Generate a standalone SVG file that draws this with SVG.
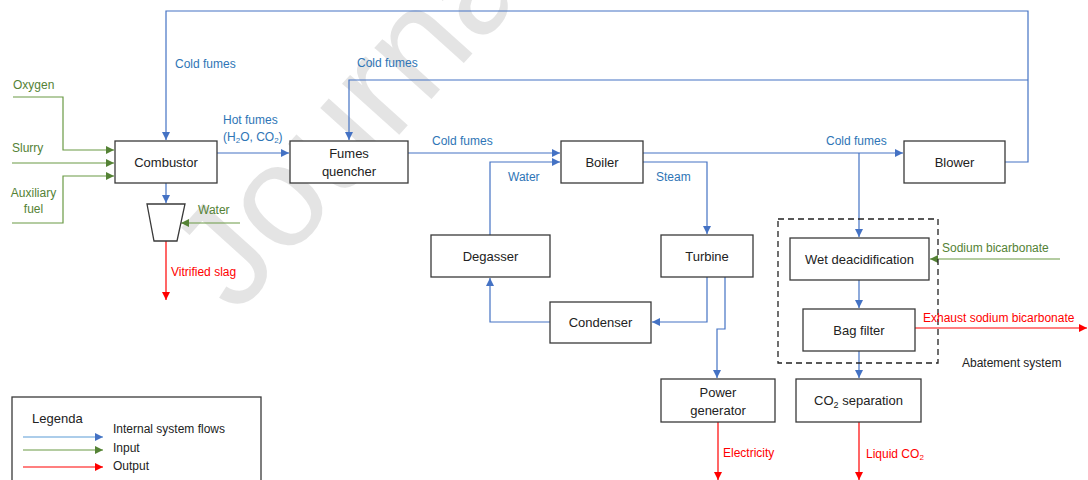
<svg xmlns="http://www.w3.org/2000/svg" width="1088" height="480" viewBox="0 0 1088 480">
<style>
.box{fill:#fff;stroke:#3a3a3a;stroke-width:1.3}
.bt{font-family:"Liberation Sans",Arial,sans-serif;font-size:13px;fill:#222;text-anchor:middle}
.lt{font-family:"Liberation Sans",Arial,sans-serif;font-size:13px;fill:#222;text-anchor:start}
.lb{font-family:"Liberation Sans",Arial,sans-serif;font-size:12px}
.blue{fill:#2E75B6}
.green{fill:#548235}
.red{fill:#FF0000}
.cb{fill:none;stroke:#4472C4;stroke-width:1.2}
.cg{fill:none;stroke:#6A9A45;stroke-width:1.2}
.cr{fill:none;stroke:#FF0000;stroke-width:1.2}
.wm{font-family:"Liberation Sans",Arial,sans-serif;font-size:145px;fill:#d9d9d9;fill-opacity:0.7}
</style>
<defs>
<marker id="ab" viewBox="0 0 10 10" refX="10" refY="5" markerWidth="8" markerHeight="8" markerUnits="userSpaceOnUse" orient="auto"><path d="M0,0L10,5L0,10z" fill="#4472C4"/></marker>
<marker id="ag" viewBox="0 0 10 10" refX="10" refY="5" markerWidth="8" markerHeight="8" markerUnits="userSpaceOnUse" orient="auto"><path d="M0,0L10,5L0,10z" fill="#548235"/></marker>
<marker id="ar" viewBox="0 0 10 10" refX="10" refY="5" markerWidth="8" markerHeight="8" markerUnits="userSpaceOnUse" orient="auto"><path d="M0,0L10,5L0,10z" fill="#FF0000"/></marker>
</defs>
<rect width="1088" height="480" fill="#fff"/>
<text class="wm" transform="translate(236,316) rotate(-48)">Journal</text>

<g id="connectors">
<polyline class="cb" points="1005,162 1028,162 1028,11 166,11 166,140" marker-end="url(#ab)"/>
<polyline class="cb" points="1028,80 349,80 349,140" marker-end="url(#ab)"/>
<line class="cb" x1="217" y1="153" x2="289" y2="153" marker-end="url(#ab)"/>
<line class="cb" x1="408" y1="153" x2="560" y2="153" marker-end="url(#ab)"/>
<line class="cb" x1="643" y1="153" x2="903" y2="153" marker-end="url(#ab)"/>
<line class="cb" x1="859" y1="153" x2="859" y2="237" marker-end="url(#ab)"/>
<polyline class="cb" points="643,162 707,162 707,234" marker-end="url(#ab)"/>
<polyline class="cb" points="490,235 490,162 560,162" marker-end="url(#ab)"/>
<polyline class="cb" points="707,277 707,322 652,322" marker-end="url(#ab)"/>
<polyline class="cb" points="550,322 490,322 490,278" marker-end="url(#ab)"/>
<polyline class="cb" points="725,277 725,329 717,329 717,378" marker-end="url(#ab)"/>
<line class="cb" x1="859" y1="280" x2="859" y2="308" marker-end="url(#ab)"/>
<line class="cb" x1="859" y1="351" x2="859" y2="378" marker-end="url(#ab)"/>
<line class="cb" x1="166" y1="183" x2="166" y2="203" marker-end="url(#ab)"/>
<polyline class="cg" points="13,97 63,97 63,150 114,150" marker-end="url(#ag)"/>
<line class="cg" x1="12" y1="163" x2="114" y2="163" marker-end="url(#ag)"/>
<polyline class="cg" points="12,223 63,223 63,176 114,176" marker-end="url(#ag)"/>
<line class="cg" x1="240" y1="223" x2="181" y2="223" marker-end="url(#ag)"/>
<line class="cg" x1="1060" y1="259" x2="930" y2="259" marker-end="url(#ag)"/>
<line class="cr" x1="166" y1="241" x2="166" y2="300" marker-end="url(#ar)"/>
<line class="cr" x1="915" y1="328" x2="1087" y2="328" marker-end="url(#ar)"/>
<line class="cr" x1="718" y1="422" x2="718" y2="480" marker-end="url(#ar)"/>
<line class="cr" x1="859" y1="422" x2="859" y2="480" marker-end="url(#ar)"/>
</g>

<g id="abatement">
<rect x="778" y="219" width="160" height="144" fill="none" stroke="#222" stroke-width="1.3" stroke-dasharray="6,4"/>
<text class="lb" x="962" y="367" fill="#222">Abatement system</text>
</g>

<g id="combustor"><rect class="box" x="115" y="141" width="102" height="42"/><text class="bt" x="166" y="166.5">Combustor</text></g>
<g id="slag-tank"><polygon class="box" points="147,204 185,204 177,241 154,241"/></g>
<g id="fumes-quencher"><rect class="box" x="290" y="141" width="118" height="42"/><text class="bt" x="349" y="157.5">Fumes</text><text class="bt" x="349" y="175.5">quencher</text></g>
<g id="boiler"><rect class="box" x="561" y="141" width="82" height="42"/><text class="bt" x="602" y="167">Boiler</text></g>
<g id="blower"><rect class="box" x="904" y="141" width="101" height="42"/><text class="bt" x="954.5" y="166.5">Blower</text></g>
<g id="degasser"><rect class="box" x="431" y="235" width="119" height="42"/><text class="bt" x="490.5" y="260.5">Degasser</text></g>
<g id="turbine"><rect class="box" x="661" y="235" width="92" height="42"/><text class="bt" x="707" y="260.5">Turbine</text></g>
<g id="condenser"><rect class="box" x="550" y="302" width="101" height="41"/><text class="bt" x="600.5" y="327">Condenser</text></g>
<g id="wet-deacidification"><rect class="box" x="790" y="238" width="139" height="42"/><text class="bt" x="859.5" y="263.5">Wet deacidification</text></g>
<g id="bag-filter"><rect class="box" x="803" y="309" width="112" height="42"/><text class="bt" x="859" y="334.5">Bag filter</text></g>
<g id="power-generator"><rect class="box" x="661" y="379" width="114" height="43"/><text class="bt" x="718" y="396.5">Power</text><text class="bt" x="718" y="414.5">generator</text></g>
<g id="co2-separation"><rect class="box" x="796" y="379" width="125" height="43"/><text class="bt" x="858.5" y="405">CO<tspan font-size="9" dy="3">2</tspan><tspan dy="-3"> separation</tspan></text></g>

<g id="labels">
<text class="lb green" x="13" y="89">Oxygen</text>
<text class="lb green" x="12" y="152">Slurry</text>
<text class="lb green" x="33.5" y="197" text-anchor="middle">Auxiliary</text>
<text class="lb green" x="33.5" y="213" text-anchor="middle">fuel</text>
<text class="lb blue" x="175" y="68">Cold fumes</text>
<text class="lb blue" x="357" y="67">Cold fumes</text>
<text class="lb blue" x="223" y="124">Hot fumes</text>
<text class="lb blue" x="223" y="141">(H<tspan font-size="8" dy="2">2</tspan><tspan dy="-2">O, CO</tspan><tspan font-size="8" dy="2">2</tspan><tspan dy="-2">)</tspan></text>
<text class="lb blue" x="432" y="145">Cold fumes</text>
<text class="lb blue" x="826" y="145">Cold fumes</text>
<text class="lb blue" x="508" y="181">Water</text>
<text class="lb blue" x="656" y="181">Steam</text>
<text class="lb green" x="198" y="214">Water</text>
<text class="lb red" x="171" y="276">Vitrified slag</text>
<text class="lb green" x="942" y="252">Sodium bicarbonate</text>
<text class="lb red" x="923" y="322">Exhaust sodium bicarbonate</text>
<text class="lb red" x="723" y="457">Electricity</text>
<text class="lb red" x="866" y="458">Liquid CO<tspan font-size="8" dy="2">2</tspan></text>
</g>

<g id="legend">
<rect x="12" y="397" width="249" height="90" fill="#fff" stroke="#3a3a3a" stroke-width="1.3"/>
<text class="lt" x="32" y="423">Legenda</text>
<line x1="23" y1="437" x2="103" y2="437" stroke="#5B9BD5" stroke-width="1.2" marker-end="url(#ab)"/>
<line x1="23" y1="450" x2="103" y2="450" stroke="#6A9A45" stroke-width="1.2" marker-end="url(#ag)"/>
<line x1="23" y1="467" x2="103" y2="467" stroke="#FF0000" stroke-width="1.2" marker-end="url(#ar)"/>
<text class="lb" x="113" y="433" fill="#222" font-size="12.5">Internal system flows</text>
<text class="lb" x="113" y="452" fill="#222" font-size="12.5">Input</text>
<text class="lb" x="113" y="470" fill="#222" font-size="12.5">Output</text>
</g>
</svg>
